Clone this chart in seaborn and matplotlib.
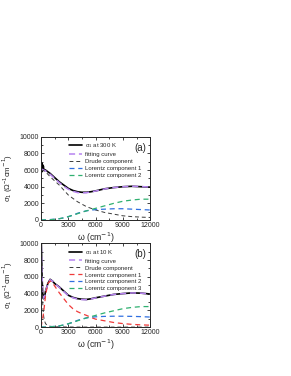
import numpy as np
import pandas as pd
import matplotlib
matplotlib.use("Agg")
import matplotlib.pyplot as plt
from matplotlib.ticker import MultipleLocator
import seaborn as sns

# ---- panel (a): 300 K ----
w_a = [0, 50, 100, 150, 200, 250, 300, 500, 1000, 1500, 2000, 2500, 3000, 3500, 4000,
       4500, 5000, 5500, 6000, 7000, 8000, 9000, 10000, 11000, 12000]
sigma_300 = [6000, 6900, 5800, 6700, 6000, 6500, 6100, 6000, 5600, 5100, 4600, 4200, 3800,
             3550, 3400, 3330, 3330, 3400, 3500, 3750, 3900, 4000, 4050, 4000, 3950]
fit_300 = [6100, 6100, 6100, 6050, 6050, 6000, 6000, 5900, 5500, 5000, 4500, 4050, 3700,
           3450, 3300, 3250, 3280, 3380, 3480, 3730, 3900, 4000, 4060, 4020, 3960]
drude_300 = [6000, 6000, 5990, 5980, 5960, 5940, 5900, 5800, 5200, 4700, 4200, 3600, 3000,
             2600, 2200, 1900, 1600, 1400, 1200, 900, 700, 500, 400, 340, 300]
lor1_300 = [0, 0, 0, 0, 0, 5, 5, 10, 50, 90, 150, 250, 400, 580, 800, 960, 1100, 1180,
            1250, 1300, 1350, 1350, 1300, 1250, 1200]
lor2_300 = [0, 0, 0, 0, 0, 0, 0, 5, 30, 80, 150, 260, 400, 570, 750, 930, 1100, 1250,
            1400, 1700, 2000, 2250, 2400, 2500, 2500]

# ---- panel (b): 10 K ----
w_b = [0, 50, 100, 150, 200, 250, 300, 400, 500, 750, 1000, 1250, 1500, 2000, 2500, 3000,
       3500, 4000, 4500, 5000, 5500, 6000, 7000, 8000, 9000, 10000, 11000, 12000]
sigma_10 = [12000, 9000, 6500, 4800, 3800, 3400, 3400, 3700, 4300, 5200, 5700, 5500, 5200,
            4800, 4300, 3800, 3550, 3400, 3330, 3300, 3380, 3500, 3700, 3900, 4000, 4080,
            4050, 3950]
fit_10 = [12000, 9000, 6600, 4900, 3900, 3500, 3450, 3700, 4250, 5150, 5650, 5500, 5200,
          4750, 4250, 3750, 3500, 3350, 3280, 3270, 3350, 3480, 3700, 3900, 4000, 4080,
          4050, 3950]
drude_10 = [12000, 9000, 6000, 4000, 2500, 1700, 1200, 700, 400, 200, 100, 70, 50, 30, 20,
            15, 10, 8, 6, 5, 5, 4, 3, 3, 2, 2, 2, 2]
lor1_10 = [0, 300, 600, 900, 1200, 1500, 1900, 2800, 3800, 5200, 5500, 5300, 4900, 4100,
           3400, 2700, 2200, 1850, 1600, 1400, 1150, 950, 750, 550, 420, 330, 270, 230]
lor2_10 = [0, 0, 0, 0, 0, 0, 0, 0, 10, 20, 50, 70, 90, 150, 250, 400, 580, 800, 960, 1100,
           1180, 1230, 1280, 1300, 1300, 1280, 1250, 1200]
lor3_10 = [0, 0, 0, 0, 0, 0, 0, 0, 5, 15, 30, 50, 80, 150, 260, 400, 570, 750, 930, 1100,
           1250, 1400, 1700, 1950, 2200, 2350, 2450, 2450]

sns.set_style("ticks")
plt.rcParams['font.family'] = ['Liberation Sans', 'DejaVu Sans']
plt.rcParams['mathtext.fontset'] = 'dejavusans'

fig = plt.figure(figsize=(2.91, 3.76), dpi=100)
ax_a = fig.add_axes([0.141, 0.415, 0.375, 0.221])
ax_b = fig.add_axes([0.141, 0.130, 0.375, 0.223])

violet = "#b784f0"
gray = "#3a3a3a"
blue = "#2f6fe0"
green = "#2fb070"
red = "#f03a3a"


def draw(ax, w, curves, tag):
    for y, label, color, lw, ls in curves:
        df = pd.DataFrame({"w": w, "s": y})
        sns.lineplot(data=df, x="w", y="s", ax=ax, color=color, lw=lw,
                     linestyle=ls, label=label, estimator=None, sort=False)
    ax.set_xlim(0, 12000)
    ax.set_ylim(0, 10000)
    ax.xaxis.set_major_locator(MultipleLocator(3000))
    ax.xaxis.set_minor_locator(MultipleLocator(1500))
    ax.yaxis.set_major_locator(MultipleLocator(2000))
    ax.yaxis.set_minor_locator(MultipleLocator(1000))
    ax.tick_params(which="both", direction="in", top=True, right=True,
                   labelsize=5, width=0.6, pad=1.5)
    ax.tick_params(which="major", length=2.5)
    ax.tick_params(which="minor", length=1.5)
    for sp in ax.spines.values():
        sp.set_linewidth(0.7)
    ax.set_xlabel(r"$\mathregular{\omega}$ (cm$^{-1}$)", fontsize=6.3, labelpad=1)
    ax.set_ylabel(r"$\mathregular{\sigma_1}$ ($\mathregular{\Omega^{-1}}$cm$^{-1}$)",
                  fontsize=5.6, labelpad=3)
    ax.legend(loc="upper left", bbox_to_anchor=(0.22, 0.99), frameon=False,
              fontsize=4.3, handlelength=2.2, handletextpad=0.5,
              labelspacing=0.3, borderaxespad=0.2)
    ax.text(0.96, 0.93, tag, transform=ax.transAxes, ha="right", va="top",
            fontsize=7)


draw(ax_a, w_a, [
    (sigma_300, r"$\mathregular{\sigma_1}$ at 300 K", "black", 1.2, "-"),
    (fit_300, "fitting curve", violet, 1.1, (0, (4, 2.5))),
    (drude_300, "Drude component", gray, 0.7, (0, (4, 3))),
    (lor1_300, "Lorentz component 1", blue, 0.9, (0, (4, 3))),
    (lor2_300, "Lorentz component 2", green, 0.9, (0, (4, 3))),
], "(a)")

draw(ax_b, w_b, [
    (sigma_10, r"$\mathregular{\sigma_1}$ at 10 K", "black", 1.2, "-"),
    (fit_10, "fitting curve", violet, 1.1, (0, (4, 2.5))),
    (drude_10, "Drude component", gray, 0.7, (0, (4, 3))),
    (lor1_10, "Lorentz component 1", red, 0.9, (0, (4, 3))),
    (lor2_10, "Lorentz component 2", blue, 0.9, (0, (4, 3))),
    (lor3_10, "Lorentz component 3", green, 0.9, (0, (4, 3))),
], "(b)")

fig.savefig("out.png", dpi=100)
